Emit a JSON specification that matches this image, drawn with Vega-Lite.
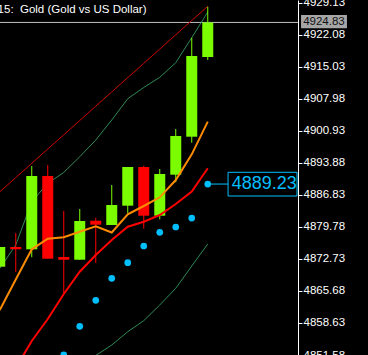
{
  "$schema": "https://vega.github.io/schema/vega-lite/v6.json",
  "width": 298,
  "height": 355,
  "autosize": {"type": "none"},
  "padding": {"left": 0, "top": 0, "right": 70, "bottom": 0},
  "background": "#000000",
  "config": {
    "view": {"stroke": null},
    "scale": {"continuousPadding": 0},
    "axisY": {
      "orient": "right",
      "title": null,
      "grid": false,
      "domainColor": "#ffffff",
      "domainWidth": 1,
      "tickColor": "#ffffff",
      "tickSize": 4,
      "labelColor": "#ffffff",
      "labelFont": "Liberation Sans",
      "labelFontSize": 11.5,
      "labelPadding": 1,
      "labelOverlap": false,
      "labelFlush": false,
      "labelBound": false
    }
  },
  "title": {
    "text": "15:\u00a0 Gold (Gold vs US Dollar)",
    "anchor": "start",
    "frame": "group",
    "orient": "top",
    "offset": 0,
    "baseline": "alphabetic",
    "dy": 28,
    "dx": -2.4,
    "font": "Liberation Sans",
    "fontSize": 11.5,
    "fontWeight": "normal",
    "color": "#ffffff"
  },
  "datasets": {
    "bars": [
      {"i": 0, "o": 4871.03, "h": 4875.4, "l": 4871.0, "c": 4875.37, "ma1": 4861.49, "ma2": null, "bu": 4870.63, "bl": null, "tr": 4887.50, "sar": null},
      {"i": 1, "o": 4875.37, "h": 4878.45, "l": 4869.86, "c": 4874.86, "ma1": 4868.21, "ma2": 4848.72, "bu": 4875.81, "bl": null, "tr": 4890.65, "sar": null},
      {"i": 2, "o": 4874.86, "h": 4893.21, "l": 4873.10, "c": 4891.01, "ma1": 4874.86, "ma2": 4854.66, "bu": 4885.35, "bl": null, "tr": 4893.80, "sar": null},
      {"i": 3, "o": 4891.01, "h": 4893.43, "l": 4872.70, "c": 4872.79, "ma1": 4877.20, "ma2": 4859.51, "bu": 4889.40, "bl": null, "tr": 4896.95, "sar": null},
      {"i": 4, "o": 4873.17, "h": 4883.30, "l": 4865.24, "c": 4872.57, "ma1": 4877.50, "ma2": 4865.02, "bu": 4891.78, "bl": null, "tr": 4900.08, "sar": 4851.6},
      {"i": 5, "o": 4872.57, "h": 4883.74, "l": 4872.50, "c": 4881.10, "ma1": 4878.74, "ma2": 4869.93, "bu": 4895.26, "bl": 4848.72, "tr": 4903.23, "sar": 4857.90},
      {"i": 6, "o": 4881.16, "h": 4881.82, "l": 4871.85, "c": 4880.28, "ma1": 4879.93, "ma2": 4873.61, "bu": 4898.93, "bl": 4851.47, "tr": 4906.38, "sar": 4863.63},
      {"i": 7, "o": 4880.21, "h": 4889.02, "l": 4880.20, "c": 4884.62, "ma1": 4878.56, "ma2": 4876.91, "bu": 4903.34, "bl": 4853.78, "tr": 4909.53, "sar": 4868.47},
      {"i": 8, "o": 4884.47, "h": 4893.00, "l": 4882.79, "c": 4892.99, "ma1": 4882.57, "ma2": 4879.84, "bu": 4908.03, "bl": 4856.71, "tr": 4912.68, "sar": 4871.91},
      {"i": 9, "o": 4892.99, "h": 4893.27, "l": 4879.40, "c": 4882.26, "ma1": 4884.40, "ma2": 4880.94, "bu": 4910.50, "bl": 4859.14, "tr": 4915.81, "sar": 4875.59},
      {"i": 10, "o": 4882.26, "h": 4892.55, "l": 4881.47, "c": 4891.45, "ma1": 4886.31, "ma2": 4882.41, "bu": 4912.74, "bl": 4862.59, "tr": 4918.96, "sar": 4878.61},
      {"i": 11, "o": 4891.29, "h": 4901.36, "l": 4889.62, "c": 4899.82, "ma1": 4890.12, "ma2": 4884.84, "bu": 4915.96, "bl": 4866.27, "tr": 4922.11, "sar": 4879.77},
      {"i": 12, "o": 4899.66, "h": 4921.47, "l": 4898.34, "c": 4917.44, "ma1": 4895.78, "ma2": 4887.59, "bu": 4921.47, "bl": 4871.18, "tr": 4925.26, "sar": 4881.75},
      {"i": 13, "o": 4917.22, "h": 4928.29, "l": 4916.56, "c": 4924.83, "ma1": 4902.97, "ma2": 4892.70, "bu": 4927.13, "bl": 4876.03, "tr": 4928.38, "sar": 4889.23}
    ]
  },
  "layer": [
    {
      "data": {"values": [{"v": 4924.83}]},
      "mark": {"type": "rule", "color": "#c0c0c0", "strokeWidth": 1},
      "encoding": {
        "y": {
          "field": "v", "type": "quantitative",
          "scale": {"domain": [4851.58, 4929.77], "nice": false, "zero": false, "padding": 0},
          "axis": {"values": [4851.58, 4858.63, 4865.68, 4872.73, 4879.78, 4886.83, 4893.88, 4900.93, 4907.98, 4915.03, 4922.08, 4929.13], "tickCount": 30, "format": ".2f", "title": null, "labelOverlap": false, "labelBound": false, "labelFlush": false}
        }
      }
    },
    {
      "data": {"name": "bars"},
      "mark": {"type": "line", "color": "#d00000", "strokeWidth": 1},
      "encoding": {
        "x": {"field": "i", "type": "quantitative", "scale": {"domain": [0.0156, 18.64], "nice": false, "zero": false, "padding": 0}, "axis": null},
        "y": {"field": "tr", "type": "quantitative", "title": null}
      }
    },
    {
      "data": {"name": "bars"},
      "mark": {"type": "line", "color": "#2e8b57", "strokeWidth": 1},
      "encoding": {
        "x": {"field": "i", "type": "quantitative", "axis": null},
        "y": {"field": "bu", "type": "quantitative", "title": null}
      }
    },
    {
      "data": {"name": "bars"},
      "mark": {"type": "line", "color": "#2e8b57", "strokeWidth": 1},
      "encoding": {
        "x": {"field": "i", "type": "quantitative", "axis": null},
        "y": {"field": "bl", "type": "quantitative", "title": null}
      }
    },
    {
      "data": {"name": "bars"},
      "mark": {"type": "rule", "strokeWidth": 1},
      "encoding": {
        "x": {"field": "i", "type": "quantitative", "axis": null},
        "y": {"field": "l", "type": "quantitative", "title": null},
        "y2": {"field": "h"},
        "color": {"condition": {"test": "datum.c >= datum.o", "value": "#7cfc00"}, "value": "#ff0000"}
      }
    },
    {
      "data": {"name": "bars"},
      "mark": {"type": "bar", "size": 11, "minBandSize": 2},
      "encoding": {
        "x": {"field": "i", "type": "quantitative", "axis": null},
        "y": {"field": "o", "type": "quantitative", "title": null},
        "y2": {"field": "c"},
        "color": {"condition": {"test": "datum.c >= datum.o", "value": "#7cfc00"}, "value": "#ff0000"}
      }
    },
    {
      "data": {"name": "bars"},
      "mark": {"type": "line", "color": "#ff8c00", "strokeWidth": 2},
      "encoding": {
        "x": {"field": "i", "type": "quantitative", "axis": null},
        "y": {"field": "ma1", "type": "quantitative", "title": null}
      }
    },
    {
      "data": {"name": "bars"},
      "mark": {"type": "line", "color": "#ff0000", "strokeWidth": 2},
      "encoding": {
        "x": {"field": "i", "type": "quantitative", "axis": null},
        "y": {"field": "ma2", "type": "quantitative", "title": null}
      }
    },
    {
      "data": {"name": "bars"},
      "mark": {"type": "circle", "color": "#00bfff", "opacity": 1, "size": 45},
      "encoding": {
        "x": {"field": "i", "type": "quantitative", "axis": null},
        "y": {"field": "sar", "type": "quantitative", "title": null}
      }
    },
    {
      "data": {"values": [{"x1": 13, "x2": 14.27, "v": 4889.23}]},
      "mark": {"type": "rule", "color": "#00bfff", "strokeWidth": 1},
      "encoding": {
        "x": {"field": "x1", "type": "quantitative", "axis": null},
        "x2": {"field": "x2"},
        "y": {"field": "v", "type": "quantitative", "title": null}
      }
    },
    {
      "data": {"values": [{"x1": 14.27, "x2": 18.58, "v1": 4891.82, "v2": 4886.6}]},
      "mark": {"type": "rect", "fill": "#000000", "stroke": "#00bfff", "strokeWidth": 1},
      "encoding": {
        "x": {"field": "x1", "type": "quantitative", "axis": null},
        "x2": {"field": "x2"},
        "y": {"field": "v1", "type": "quantitative", "title": null},
        "y2": {"field": "v2"}
      }
    },
    {
      "data": {"values": [{"x": 14.5, "v": 4889.18, "label": "4889.23"}]},
      "mark": {"type": "text", "align": "left", "baseline": "middle", "color": "#00bfff", "font": "Liberation Sans", "fontSize": 18},
      "encoding": {
        "x": {"field": "x", "type": "quantitative", "axis": null},
        "y": {"field": "v", "type": "quantitative", "title": null},
        "text": {"field": "label"}
      }
    },
    {
      "data": {"values": [{"x1": 18.83, "x2": 21.7, "v1": 4926.47, "v2": 4923.54}]},
      "mark": {"type": "rect", "fill": "#a6a6a6"},
      "encoding": {
        "x": {"field": "x1", "type": "quantitative", "axis": null},
        "x2": {"field": "x2"},
        "y": {"field": "v1", "type": "quantitative", "title": null},
        "y2": {"field": "v2"}
      }
    },
    {
      "data": {"values": [{"x": 20.26, "v": 4925.0, "label": "4924.83"}]},
      "mark": {"type": "text", "align": "center", "baseline": "middle", "color": "#111111", "font": "Liberation Sans", "fontSize": 11.5},
      "encoding": {
        "x": {"field": "x", "type": "quantitative", "axis": null},
        "y": {"field": "v", "type": "quantitative", "title": null},
        "text": {"field": "label"}
      }
    }
  ]
}
